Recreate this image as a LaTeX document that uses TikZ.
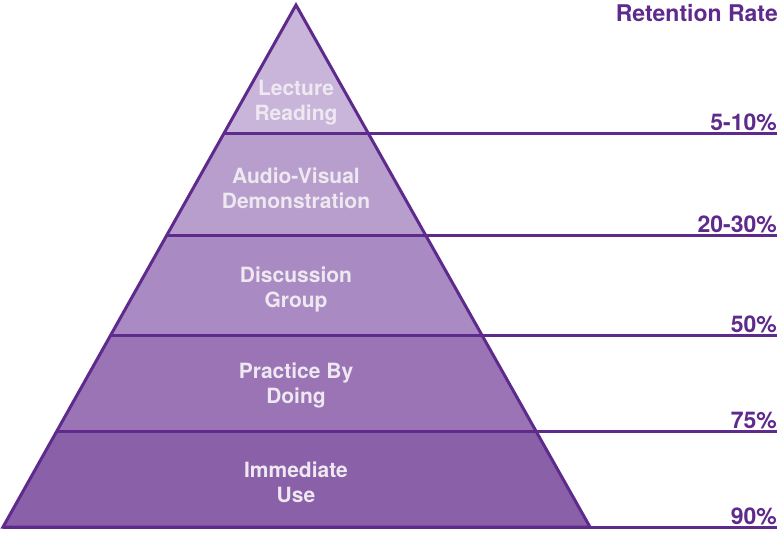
\documentclass[tikz,border=0pt]{standalone}
\usepackage{fontspec}
\setmainfont{TeX Gyre Heros}
\usetikzlibrary{calc}
\definecolor{edge}{HTML}{5E2A8C}
\definecolor{tierA}{HTML}{C9B5DA}
\definecolor{tierB}{HTML}{B89ECC}
\definecolor{tierC}{HTML}{A98AC2}
\definecolor{tierD}{HTML}{9A74B5}
\definecolor{tierE}{HTML}{8A60A8}
\definecolor{tiertext}{HTML}{EEE8F1}

\begin{document}
\begin{tikzpicture}[x=1pt,y=-1pt,
tier/.style={align=center,inner sep=0pt,text=tiertext,font=\bfseries\fontsize{21}{25}\selectfont},
rate/.style={anchor=base east,inner sep=0pt,yshift=3pt,text=edge,font=\bfseries\fontsize{23}{27}\selectfont},
rule/.style={draw=edge,line width=3pt}
]
\useasboundingbox (0,0) rectangle (782,535);
% pyramid corners
\coordinate (apex) at (296,5);
\coordinate (bl) at (3,527);
\coordinate (br) at (590,527);
% level points on the two sides
\coordinate (l1) at ($(apex)!0.2471!(bl)$); \coordinate (r1) at ($(apex)!0.2471!(br)$);
\coordinate (l2) at ($(apex)!0.4425!(bl)$); \coordinate (r2) at ($(apex)!0.4425!(br)$);
\coordinate (l3) at ($(apex)!0.6341!(bl)$); \coordinate (r3) at ($(apex)!0.6341!(br)$);
\coordinate (l4) at ($(apex)!0.8180!(bl)$); \coordinate (r4) at ($(apex)!0.8180!(br)$);
% tiers
\fill[tierA] (apex) -- (l1) -- (r1) -- cycle;
\fill[tierB] (l1) -- (l2) -- (r2) -- (r1) -- cycle;
\fill[tierC] (l2) -- (l3) -- (r3) -- (r2) -- cycle;
\fill[tierD] (l3) -- (l4) -- (r4) -- (r3) -- cycle;
\fill[tierE] (l4) -- (bl) -- (br) -- (r4) -- cycle;
% line ends on the right
\coordinate (e1) at (777,0 |- l1);
\coordinate (e2) at (777,0 |- l2);
\coordinate (e3) at (777,0 |- l3);
\coordinate (e4) at (777,0 |- l4);
\coordinate (e5) at (777,0 |- bl);
\draw[rule,line join=miter] (apex) -- (bl) -- (br) -- cycle;
\draw[rule] (l1) -- (e1);
\draw[rule] (l2) -- (e2);
\draw[rule] (l3) -- (e3);
\draw[rule] (l4) -- (e4);
\draw[rule] (bl) -- (e5);
% labels
\node[tier] (lecture) at (296,103) {Lecture\\Reading};
\node[tier] (audio) at (296,188) {Audio-Visual\\Demonstration};
\node[tier] (discuss) at (296,289) {Discussion\\Group};
\node[tier] (practice) at (296,385) {Practice By\\Doing};
\node[tier] (use) at (296,482) {Immediate\\Use};
\node[rate,yshift=-3pt] (head) at (778,22) {Retention Rate};
\node[rate] (rate1) at (e1) {5-10\%};
\node[rate] (rate2) at (e2) {20-30\%};
\node[rate] (rate3) at (e3) {50\%};
\node[rate] (rate4) at (e4) {75\%};
\node[rate] (rate5) at (e5) {90\%};
\end{tikzpicture}
\end{document}
